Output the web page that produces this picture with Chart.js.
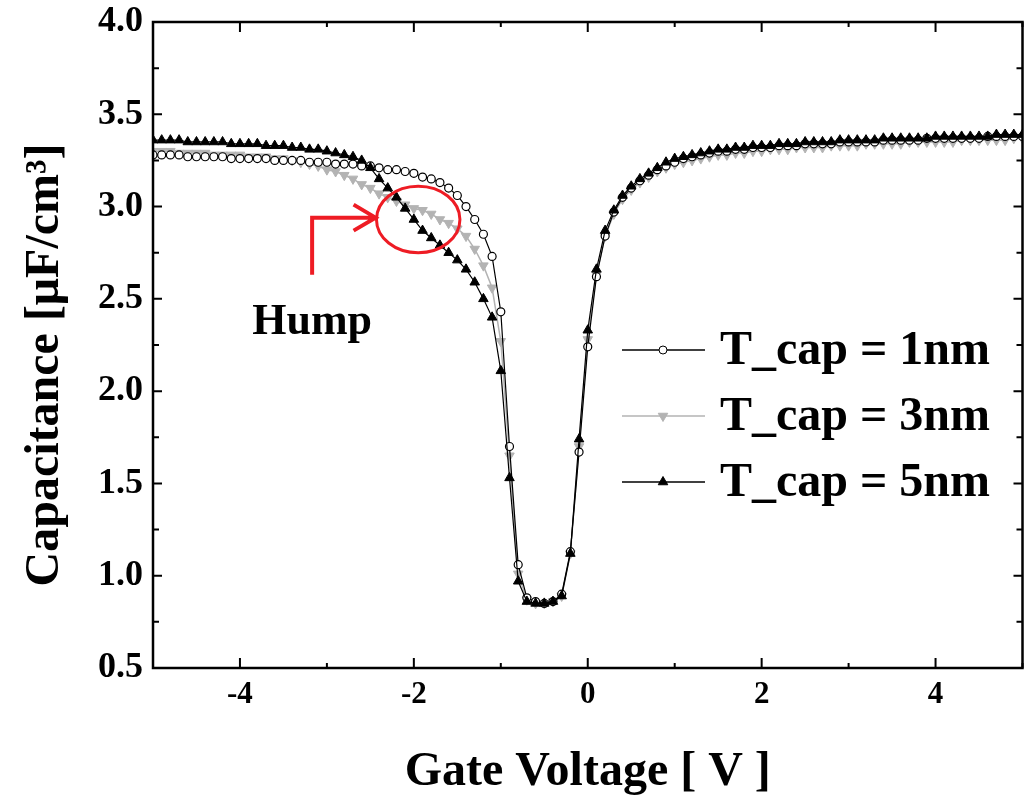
<!DOCTYPE html>
<html>
<head>
<meta charset="utf-8">
<script src="https://cdn.jsdelivr.net/npm/chart.js@4.4.1/dist/chart.umd.min.js"></script>
<style>
  html, body { margin: 0; padding: 0; background: #fff; }
  canvas { display: block; }
</style>
</head>
<body>
<canvas id="cv-chart" width="1029" height="805"></canvas>
<script>
// Gate voltage sweep [V]
const gateVoltage = [
  -5.0, -4.9, -4.8, -4.7, -4.6, -4.5, -4.4, -4.3, -4.2, -4.1,
  -4.0, -3.9, -3.8, -3.7, -3.6, -3.5, -3.4, -3.3, -3.2, -3.1,
  -3.0, -2.9, -2.8, -2.7, -2.6, -2.5, -2.4, -2.3, -2.2, -2.1,
  -2.0, -1.9, -1.8, -1.7, -1.6, -1.5, -1.4, -1.3, -1.2, -1.1,
  -1.0, -0.9, -0.8, -0.7, -0.6, -0.5, -0.4, -0.3, -0.2, -0.1,
  0.0, 0.1, 0.2, 0.3, 0.4, 0.5, 0.6, 0.7, 0.8, 0.9,
  1.0, 1.1, 1.2, 1.3, 1.4, 1.5, 1.6, 1.7, 1.8, 1.9,
  2.0, 2.1, 2.2, 2.3, 2.4, 2.5, 2.6, 2.7, 2.8, 2.9,
  3.0, 3.1, 3.2, 3.3, 3.4, 3.5, 3.6, 3.7, 3.8, 3.9,
  4.0, 4.1, 4.2, 4.3, 4.4, 4.5, 4.6, 4.7, 4.8, 4.9, 5.0,
];

// Capacitance [uF/cm3] for each capping thickness
const capT1 = [
  3.28, 3.28, 3.28, 3.28, 3.27, 3.27, 3.27, 3.27, 3.27, 3.26,
  3.26, 3.26, 3.26, 3.26, 3.25, 3.25, 3.25, 3.25, 3.24, 3.24,
  3.24, 3.23, 3.23, 3.23, 3.22, 3.22, 3.21, 3.20, 3.20, 3.19,
  3.18, 3.16, 3.15, 3.13, 3.10, 3.06, 3.00, 2.93, 2.85, 2.73,
  2.43, 1.70, 1.06, 0.88, 0.86, 0.85, 0.86, 0.90, 1.13, 1.67,
  2.24, 2.62, 2.84, 2.97, 3.05, 3.10, 3.14, 3.17, 3.20, 3.22,
  3.24, 3.26, 3.27, 3.28, 3.29, 3.30, 3.30, 3.31, 3.31, 3.32,
  3.32, 3.32, 3.33, 3.33, 3.33, 3.34, 3.34, 3.34, 3.34, 3.35,
  3.35, 3.35, 3.35, 3.35, 3.36, 3.36, 3.36, 3.36, 3.36, 3.37,
  3.37, 3.37, 3.37, 3.37, 3.37, 3.37, 3.38, 3.38, 3.38, 3.38, 3.38,
];

const capT3 = [
  3.30, 3.30, 3.30, 3.29, 3.29, 3.29, 3.29, 3.28, 3.28, 3.28,
  3.28, 3.27, 3.27, 3.27, 3.26, 3.26, 3.25, 3.24, 3.23, 3.22,
  3.20, 3.19, 3.17, 3.15, 3.12, 3.10, 3.07, 3.05, 3.03, 3.01,
  2.99, 2.98, 2.96, 2.93, 2.91, 2.88, 2.84, 2.77, 2.68, 2.56,
  2.27, 1.65, 1.01, 0.87, 0.85, 0.85, 0.86, 0.89, 1.12, 1.70,
  2.28, 2.63, 2.84, 2.96, 3.04, 3.09, 3.13, 3.16, 3.19, 3.21,
  3.23, 3.24, 3.25, 3.26, 3.27, 3.28, 3.28, 3.29, 3.29, 3.30,
  3.30, 3.31, 3.31, 3.31, 3.32, 3.32, 3.32, 3.32, 3.33, 3.33,
  3.33, 3.33, 3.34, 3.34, 3.34, 3.34, 3.34, 3.35, 3.35, 3.35,
  3.35, 3.35, 3.35, 3.36, 3.36, 3.36, 3.36, 3.36, 3.36, 3.37, 3.37,
];

const capT5 = [
  3.36, 3.36, 3.36, 3.36, 3.35, 3.35, 3.35, 3.35, 3.35, 3.34,
  3.34, 3.34, 3.34, 3.33, 3.33, 3.33, 3.32, 3.32, 3.31, 3.31,
  3.30, 3.29, 3.28, 3.27, 3.25, 3.21, 3.15, 3.10, 3.05, 2.99,
  2.93, 2.87, 2.83, 2.79, 2.75, 2.71, 2.66, 2.59, 2.50, 2.40,
  2.11, 1.53, 0.97, 0.86, 0.85, 0.85, 0.86, 0.89, 1.12, 1.74,
  2.33, 2.66, 2.87, 2.98, 3.06, 3.11, 3.15, 3.18, 3.21, 3.24,
  3.26, 3.27, 3.28, 3.29, 3.30, 3.31, 3.31, 3.32, 3.32, 3.33,
  3.33, 3.33, 3.34, 3.34, 3.34, 3.35, 3.35, 3.35, 3.35, 3.36,
  3.36, 3.36, 3.36, 3.36, 3.37, 3.37, 3.37, 3.37, 3.37, 3.37,
  3.38, 3.38, 3.38, 3.38, 3.38, 3.38, 3.38, 3.39, 3.39, 3.39, 3.39,
];

const seriesLabels = ["T_cap = 1nm", "T_cap = 3nm", "T_cap = 5nm"];
const xTickLabels = [-4, -2, 0, 2, 4];
const yTickLabels = ["0.5", "1.0", "1.5", "2.0", "2.5", "3.0", "3.5", "4.0"];

const SERIF = "'Liberation Serif', 'Times New Roman', serif";
const GRAY = "#b3b3b3";
const RED = "#ee1c24";

function toPoints(values) {
  return gateVoltage.map((v, i) => ({ x: v, y: values[i] }));
}

// Box frame with inward ticks on all four sides, plus legend and annotation
const frameTicks = {
  id: "frameTicks",
  afterDatasetsDraw(chart) {
    const { ctx, chartArea: a, scales: { x, y } } = chart;
    ctx.save();
    ctx.strokeStyle = "#000";
    ctx.lineWidth = 2;
    ctx.beginPath();
    x.ticks.forEach((t) => {
      const px = x.getPixelForValue(t.value);
      const len = Math.abs(t.value) % 2 === 0 ? 10 : 5;
      ctx.moveTo(px, a.bottom);
      ctx.lineTo(px, a.bottom - len);
      ctx.moveTo(px, a.top);
      ctx.lineTo(px, a.top + len);
    });
    y.ticks.forEach((t) => {
      [t.value, t.value + 0.25].forEach((v, k) => {
        if (v > y.max + 1e-9) return;
        const py = y.getPixelForValue(v);
        const len = k === 0 ? 9 : 6;
        ctx.moveTo(a.left, py);
        ctx.lineTo(a.left + len, py);
        ctx.moveTo(a.right, py);
        ctx.lineTo(a.right - len, py);
      });
    });
    ctx.stroke();
    ctx.lineWidth = 2.5;
    ctx.strokeRect(a.left, a.top, a.right - a.left, a.bottom - a.top);
    ctx.restore();
  },
  afterDraw(chart) {
    const { ctx, scales: { x, y } } = chart;
    ctx.save();

    // y-axis title
    ctx.translate(46, 365);
    ctx.rotate(-Math.PI / 2);
    ctx.fillStyle = "#000";
    ctx.font = "bold 48px " + SERIF;
    ctx.textAlign = "center";
    ctx.textBaseline = "middle";
    ctx.fillText("Capacitance [\u03bcF/cm\u00b3]", 0, 0);
    ctx.restore();

    // legend inside the plot
    const rows = [350, 416, 482];
    chart.data.datasets.forEach((ds, i) => {
      const ry = rows[i];
      ctx.save();
      ctx.strokeStyle = ds.borderColor;
      ctx.lineWidth = 1.6;
      ctx.beginPath();
      ctx.moveTo(622, ry);
      ctx.lineTo(705, ry);
      ctx.stroke();
      ctx.fillStyle = ds.pointBackgroundColor;
      ctx.strokeStyle = ds.pointBorderColor;
      ctx.lineWidth = 1;
      Chart.helpers.drawPoint(ctx, {
        pointStyle: ds.pointStyle,
        radius: ds.pointRadius,
        rotation: ds.pointRotation || 0,
        borderWidth: 1,
      }, 663, ry);
      ctx.fillStyle = "#000";
      ctx.font = "bold 48px " + SERIF;
      ctx.textAlign = "left";
      ctx.textBaseline = "middle";
      ctx.fillText(ds.label, 720, ry + 2);
      ctx.restore();
    });

    // "Hump" annotation
    ctx.save();
    ctx.strokeStyle = RED;
    ctx.lineWidth = 3;
    const cx = x.getPixelForValue(-1.95);
    const cy = y.getPixelForValue(2.93);
    const rx = x.getPixelForValue(-1.47) - cx;
    const ry = cy - y.getPixelForValue(3.11);
    ctx.beginPath();
    ctx.ellipse(cx, cy, rx, ry, 0, 0, Math.PI * 2);
    ctx.stroke();

    const ax = x.getPixelForValue(-3.17);
    const ay0 = y.getPixelForValue(2.63);
    const ay1 = y.getPixelForValue(2.94);
    const tipX = x.getPixelForValue(-2.44);
    ctx.lineWidth = 4;
    ctx.beginPath();
    ctx.moveTo(ax, ay0);
    ctx.lineTo(ax, ay1);
    ctx.lineTo(tipX, ay1);
    ctx.moveTo(tipX - 22, ay1 - 13);
    ctx.lineTo(tipX, ay1);
    ctx.lineTo(tipX - 22, ay1 + 13);
    ctx.stroke();

    ctx.fillStyle = "#000";
    ctx.font = "bold 44px " + SERIF;
    ctx.textAlign = "center";
    ctx.textBaseline = "middle";
    ctx.fillText("Hump", x.getPixelForValue(-3.17), y.getPixelForValue(2.37));
    ctx.restore();
  },
};

const ctx = document.getElementById("cv-chart").getContext("2d");

new Chart(ctx, {
  type: "scatter",
  data: {
    datasets: [
      {
        label: seriesLabels[0],
        data: toPoints(capT1),
        showLine: true,
        borderColor: "#000",
        borderWidth: 1.2,
        pointStyle: "circle",
        pointRadius: 4,
        pointBackgroundColor: "#fff",
        pointBorderColor: "#000",
        pointBorderWidth: 1.2,
        order: 2,
      },
      {
        label: seriesLabels[1],
        data: toPoints(capT3),
        showLine: true,
        borderColor: GRAY,
        borderWidth: 1.5,
        pointStyle: "triangle",
        pointRotation: 180,
        pointRadius: 5.5,
        pointBackgroundColor: GRAY,
        pointBorderColor: GRAY,
        pointBorderWidth: 1,
        order: 3,
      },
      {
        label: seriesLabels[2],
        data: toPoints(capT5),
        showLine: true,
        borderColor: "#000",
        borderWidth: 1.2,
        pointStyle: "triangle",
        pointRadius: 5.5,
        pointBackgroundColor: "#000",
        pointBorderColor: "#000",
        pointBorderWidth: 1,
        order: 1,
      },
    ],
  },
  options: {
    responsive: false,
    animation: false,
    layout: { padding: { top: 22, right: 1, left: 0, bottom: 0 } },
    plugins: {
      legend: { display: false },
      tooltip: { enabled: false },
    },
    scales: {
      x: {
        type: "linear",
        min: -5,
        max: 5,
        grid: { display: false, drawTicks: false },
        border: { display: false },
        ticks: {
          stepSize: 1,
          autoSkip: false,
          maxRotation: 0,
          padding: 8,
          color: "#000",
          font: { family: SERIF, size: 31, weight: "bold" },
          callback: (v) => (xTickLabels.includes(v) ? String(v) : ""),
        },
        title: {
          display: true,
          text: "Gate Voltage [ V ]",
          color: "#000",
          font: { family: SERIF, size: 48, weight: "bold" },
          padding: { top: 0, bottom: 4 },
        },
        afterFit: (s) => {
          s.height = 137;
          s.paddingLeft = 0;
          s.paddingRight = 0;
        },
      },
      y: {
        min: 0.5,
        max: 4.0,
        grid: { display: false, drawTicks: false },
        border: { display: false },
        ticks: {
          stepSize: 0.5,
          padding: 10,
          color: "#000",
          font: { family: SERIF, size: 36, weight: "bold" },
          callback: (v) => yTickLabels.find((l) => Number(l) === v) || "",
        },
        afterFit: (s) => {
          s.width = 153;
          s.paddingTop = 0;
          s.paddingBottom = 0;
        },
      },
    },
  },
  plugins: [frameTicks],
});
</script>
</body>
</html>
